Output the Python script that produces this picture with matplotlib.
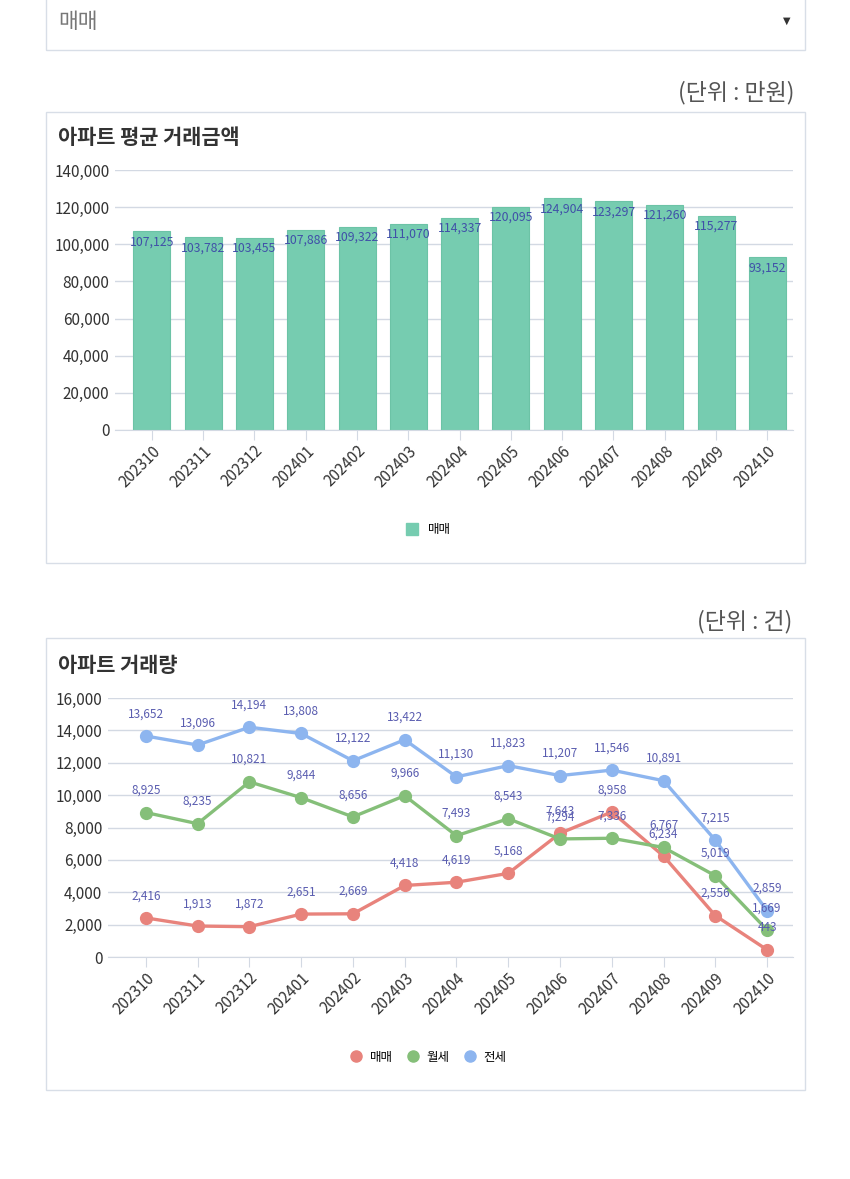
import matplotlib.pyplot as plt
from matplotlib.patches import Rectangle
from matplotlib.lines import Line2D
import numpy as np

plt.rcParams['font.family'] = ['Noto Sans CJK KR', 'DejaVu Sans']

months = ["202310", "202311", "202312", "202401", "202402", "202403", "202404",
          "202405", "202406", "202407", "202408", "202409", "202410"]
avg_price = [107125, 103782, 103455, 107886, 109322, 111070, 114337,
             120095, 124904, 123297, 121260, 115277, 93152]
sale = [2416, 1913, 1872, 2651, 2669, 4418, 4619, 5168, 7643, 8958, 6234, 2556, 443]
monthly = [8925, 8235, 10821, 9844, 8656, 9966, 7493, 8543, 7294, 7336, 6767, 5019, 1669]
jeonse = [13652, 13096, 14194, 13808, 12122, 13422, 11130, 11823, 11207, 11546, 10891, 7215, 2859]

W, H = 850, 1179
fig = plt.figure(figsize=(W / 100, H / 100), dpi=100)
fig.patch.set_facecolor('white')

def fx(x):
    return x / W

def fy(y):
    return 1 - y / H

def box(x0, y0, x1, y1, ec='#d8dee7'):
    fig.add_artist(Rectangle((fx(x0), fy(y1)), fx(x1) - fx(x0), fy(y0) - fy(y1),
                             transform=fig.transFigure, fill=False, ec=ec, lw=1))

def axes_px(left, top, right, bottom):
    return fig.add_axes([fx(left), fy(bottom), fx(right) - fx(left), fy(top) - fy(bottom)])

grid_c = '#d3d9e3'
label_c = '#4050a8'
pt_label_c = '#5a5db0'
x = np.arange(len(months))

# dropdown
box(46, -5, 805, 50)
fig.text(fx(58), fy(22), "매매", fontsize=15.5, color='#777777', va='center',
         fontweight='light')
fig.text(fx(787), fy(21), "▼", fontsize=7, color='#333333', va='center', ha='center',
         family=['DejaVu Sans'])

# ---- chart 1 ----
fig.text(fx(795), fy(93), "(단위 : 만원)", fontsize=16.5, color='#555555', ha='right',
         va='center', fontweight='light')
box(46, 112, 805, 563)
fig.text(fx(58), fy(138), "아파트 평균 거래금액", fontsize=15, fontweight='bold',
         color='#333333', va='center')

ax1 = axes_px(115, 170, 793, 430)
ax1.bar(x, avg_price, width=0.72, color='#76ccb0', edgecolor='#6cc3a6', lw=0.8, zorder=2)
for i, v in enumerate(avg_price):
    ax1.annotate(f"{v:,}", (x[i], v), xytext=(0, -3), textcoords='offset points',
                 ha='center', va='top', fontsize=8.8, color=label_c, zorder=4)
ax1.set_ylim(0, 140000)
ax1.set_yticks(np.arange(0, 140001, 20000))
ax1.set_yticklabels([f"{t:,}" for t in range(0, 140001, 20000)])
ax1.set_xlim(-0.72, 12.5)

# ---- chart 2 ----
fig.text(fx(792), fy(622), "(단위 : 건)", fontsize=16.5, color='#555555', ha='right',
         va='center', fontweight='light')
box(46, 638, 805, 1090)
fig.text(fx(58), fy(665), "아파트 거래량", fontsize=15, fontweight='bold',
         color='#333333', va='center')

ax2 = axes_px(108, 698, 793, 957)
series = [("매매", sale, '#e8837c'), ("월세", monthly, '#85bf79'), ("전세", jeonse, '#8db5ef')]
for name, vals, c in series:
    ax2.plot(x, vals, color=c, lw=2.4, marker='o', ms=8.5, mec=c, mfc=c, zorder=3)
for name, vals, c in series:
    for i, v in enumerate(vals):
        ax2.annotate(f"{v:,}", (x[i], v), xytext=(0, 16), textcoords='offset points',
                     ha='center', va='center', fontsize=8.5, color=pt_label_c, zorder=5)
ax2.set_ylim(0, 16000)
ax2.set_yticks(np.arange(0, 16001, 2000))
ax2.set_yticklabels([f"{t:,}" for t in range(0, 16001, 2000)])
ax2.set_xlim(-0.73, 12.5)

for ax in (ax1, ax2):
    ax.set_xticks(x)
    ax.set_xticklabels(months, rotation=45, ha='right', rotation_mode='anchor',
                       fontsize=11, color='#333333')
    ax.tick_params(axis='x', length=7, color=grid_c, pad=2)
    ax.tick_params(axis='y', length=0, labelsize=11, labelcolor='#333333', pad=4)
    ax.grid(axis='y', color=grid_c, lw=1, zorder=0)
    ax.set_axisbelow(True)
    for s in ('top', 'right', 'left'):
        ax.spines[s].set_visible(False)
    ax.spines['bottom'].set_color(grid_c)
    ax.set_facecolor('none')

# legends
h1 = [Line2D([], [], ls='none', marker='s', ms=8, color='#76ccb0', label='매매')]
fig.legend(handles=h1, loc='center', bbox_to_anchor=(fx(425), fy(530)), frameon=False,
           fontsize=9, handletextpad=0.3)
h2 = [Line2D([], [], ls='none', marker='o', ms=8, color=c, label=n) for n, _, c in series]
fig.legend(handles=h2, loc='center', bbox_to_anchor=(fx(425), fy(1057)), frameon=False,
           fontsize=9, ncol=3, handletextpad=0.1, columnspacing=0.6)

fig.savefig('out.png', dpi=100)
